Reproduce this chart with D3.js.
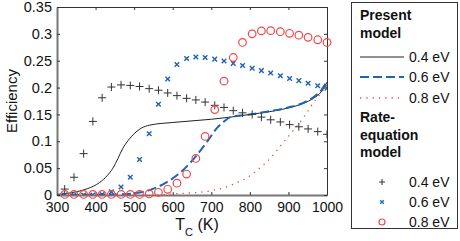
<!DOCTYPE html>
<html>
<head>
<meta charset="utf-8">
<script src="https://cdn.jsdelivr.net/npm/d3@7"></script>
<style>
  body { margin: 0; background: #fff; }
  text { font-family: "Liberation Sans", Arial, sans-serif; }
</style>
</head>
<body>
<svg id="chart" width="460" height="241"></svg>
<script>
// rate-equation model sample temperatures (K)
var temps = [320, 344, 369, 393, 417, 441, 466, 490, 514, 539, 563, 587, 611, 636, 660,
  684, 709, 733, 757, 781, 806, 830, 854, 879, 903, 927, 951, 976, 1000];
var rate04 = [0.011, 0.033, 0.077, 0.137, 0.181, 0.201, 0.205, 0.204, 0.202, 0.198, 0.195,
  0.190, 0.185, 0.180, 0.177, 0.173, 0.167, 0.163, 0.157, 0.153, 0.150, 0.145, 0.140,
  0.136, 0.131, 0.127, 0.123, 0.118, 0.113];
var rate06 = [0.000, 0.000, 0.000, 0.000, 0.001, 0.006, 0.015, 0.033, 0.066, 0.114, 0.169,
  0.216, 0.243, 0.254, 0.257, 0.256, 0.253, 0.2495, 0.245, 0.241, 0.236, 0.2315, 0.227,
  0.222, 0.217, 0.213, 0.208, 0.2035, 0.199];
var rate08 = [0.001, 0.001, 0.001, 0.001, 0.001, 0.001, 0.001, 0.001, 0.001, 0.002, 0.005,
  0.0106, 0.022, 0.039, 0.068, 0.109, 0.159, 0.212, 0.256, 0.284, 0.300, 0.3055, 0.306,
  0.304, 0.301, 0.2975, 0.2935, 0.289, 0.284];

// present model curves [T, efficiency]
var model04 = [[300, 0.001], [350, 0.006], [380, 0.012], [410, 0.023], [430, 0.036],
  [445, 0.050], [458, 0.068], [470, 0.086], [485, 0.102], [500, 0.114], [520, 0.125],
  [540, 0.130], [600, 0.135], [650, 0.138], [700, 0.141], [750, 0.145], [800, 0.150],
  [850, 0.155], [900, 0.162], [940, 0.171], [965, 0.180], [985, 0.192], [1000, 0.210]];
var model06 = [[300, 0.000], [450, 0.001], [500, 0.003], [540, 0.009], [585, 0.024],
  [625, 0.045], [660, 0.072], [690, 0.100], [715, 0.125], [735, 0.138], [750, 0.145],
  [800, 0.150], [850, 0.156], [900, 0.163], [940, 0.172], [965, 0.182], [985, 0.195],
  [1000, 0.212]];
var model08 = [[560, 0.000], [600, 0.002], [650, 0.004], [700, 0.008], [730, 0.013],
  [760, 0.021], [790, 0.031], [820, 0.047], [850, 0.066], [880, 0.092], [910, 0.118],
  [940, 0.145], [965, 0.172], [985, 0.190], [1000, 0.205]];

var xTicks = [300, 400, 500, 600, 700, 800, 900, 1000];
var yTicks = [0, 0.05, 0.1, 0.15, 0.2, 0.25, 0.3, 0.35];
var legendLabels = ["0.4 eV", "0.6 eV", "0.8 eV"];

var margin = {top: 7, left: 57};
var width = 270, height = 188;
var black = "#222", blue = "#1f63b5", red = "#f04848";

var svg = d3.select("#chart");
var g = svg.append("g").attr("transform", "translate(" + margin.left + "," + margin.top + ")");

var x = d3.scaleLinear().domain([300, 1000]).range([0, width]);
var y = d3.scaleLinear().domain([0, 0.35]).range([height, 0]);

// axes (MATLAB style, ticks inside on all four sides)
function styleAxis(sel, color, w, fs) {
  sel.attr("font-family", null).attr("font-size", null);
  sel.select(".domain").attr("stroke", color).attr("stroke-width", w).attr("fill", "none");
  sel.selectAll(".tick line").attr("stroke", "#333");
  sel.selectAll("text").style("font-size", fs).attr("fill", "#111");
}
var fmtY = function(d) { return d === 0 ? "0" : String(+d.toFixed(2)); };

g.append("g").attr("transform", "translate(0," + height + ")")
  .call(d3.axisBottom(x).tickValues(xTicks).tickSizeInner(-3).tickSizeOuter(0).tickPadding(7)
    .tickFormat(d3.format("d")))
  .call(styleAxis, "#777", 2, "14px");
g.append("g")
  .call(d3.axisTop(x).tickValues(xTicks).tickSizeInner(-3).tickSizeOuter(0).tickFormat(""))
  .call(styleAxis, "#333", 1, "14px");
g.append("g")
  .call(d3.axisLeft(y).tickValues(yTicks).tickSizeInner(-3).tickSizeOuter(0).tickPadding(5)
    .tickFormat(fmtY))
  .call(styleAxis, "#777", 2, "14.5px");
g.append("g").attr("transform", "translate(" + width + ",0)")
  .call(d3.axisRight(y).tickValues(yTicks).tickSizeInner(-3).tickSizeOuter(0).tickFormat(""))
  .call(styleAxis, "#333", 1, "14px");

// clip so curves stay in the box
svg.append("clipPath").attr("id", "clip").append("rect")
  .attr("x", 0).attr("y", 0).attr("width", width).attr("height", height);
var plot = g.append("g").attr("clip-path", "url(#clip)");

var line = d3.line().curve(d3.curveMonotoneX)
  .x(function(d) { return x(d[0]); })
  .y(function(d) { return y(d[1]); });

plot.append("path").datum(model08).attr("fill", "none").attr("stroke", red)
  .attr("stroke-width", 1.3).attr("stroke-dasharray", "1.3,5").attr("d", line);
plot.append("path").datum(model04).attr("fill", "none").attr("stroke", black)
  .attr("stroke-width", 1).attr("d", line);
plot.append("path").datum(model06).attr("fill", "none").attr("stroke", blue)
  .attr("stroke-width", 2).attr("stroke-dasharray", "9,4").attr("d", line);

// markers
function plusPath(s) { return "M" + (-s) + ",0H" + s + "M0," + (-s) + "V" + s; }
function crossPath(s) { return "M" + (-s) + "," + (-s) + "L" + s + "," + s + "M" + (-s) + "," + s + "L" + s + "," + (-s); }

plot.selectAll(".plus").data(temps).enter().append("path")
  .attr("class", "plus")
  .attr("transform", function(d, i) { return "translate(" + x(d) + "," + y(rate04[i]) + ")"; })
  .attr("d", plusPath(4)).attr("stroke", "#333").attr("stroke-width", 1).attr("fill", "none");
plot.selectAll(".xmark").data(temps).enter().append("path")
  .attr("class", "xmark")
  .attr("transform", function(d, i) { return "translate(" + x(d) + "," + y(rate06[i]) + ")"; })
  .attr("d", crossPath(2.3)).attr("stroke", blue).attr("stroke-width", 1.4).attr("fill", "none");
g.selectAll(".circ").data(temps).enter().append("circle")
  .attr("class", "circ")
  .attr("cx", function(d) { return x(d); })
  .attr("cy", function(d, i) { return y(rate08[i]); })
  .attr("r", 3.8).attr("stroke", red).attr("stroke-width", 1.2).attr("fill", "none");

// axis titles
svg.append("text")
  .attr("transform", "translate(17," + (margin.top + height / 2) + ") rotate(-90)")
  .attr("text-anchor", "middle").style("font-size", "15px").attr("fill", "#111")
  .text("Efficiency");
var xt = svg.append("text").attr("x", 197).attr("y", 230)
  .attr("text-anchor", "middle").style("font-size", "16px").attr("fill", "#111");
xt.append("tspan").text("T");
xt.append("tspan").attr("dy", 6).style("font-size", "11px").text("C");
xt.append("tspan").attr("dy", -6).text(" (K)");

// legend
var lg = svg.append("g");
lg.append("rect").attr("x", 351.5).attr("y", 2.5).attr("width", 106).attr("height", 226)
  .attr("fill", "#fff").attr("stroke", "#333").attr("stroke-width", 1);

function heading(lines, y0) {
  lines.forEach(function(t, i) {
    lg.append("text").attr("x", 360).attr("y", y0 + i * 17.5)
      .style("font-size", "14px").style("font-weight", "bold").attr("fill", "#111").text(t);
  });
}
heading(["Present", "model"], 20);
heading(["Rate-", "equation", "model"], 122);

var lineStyles = [
  {color: black, w: 1, dash: null},
  {color: blue, w: 2, dash: "9,4"},
  {color: red, w: 1.3, dash: "1.3,5"}
];
var lineY = [57, 77, 98];
lineStyles.forEach(function(s, i) {
  lg.append("line").attr("x1", 360).attr("x2", 404).attr("y1", lineY[i]).attr("y2", lineY[i])
    .attr("stroke", s.color).attr("stroke-width", s.w).attr("stroke-dasharray", s.dash);
  lg.append("text").attr("x", 409).attr("y", lineY[i] + 5).style("font-size", "14px")
    .attr("fill", "#111").text(legendLabels[i]);
});

var markY = [182, 202, 222];
lg.append("path").attr("transform", "translate(382," + markY[0] + ")").attr("d", plusPath(3))
  .attr("stroke", "#333").attr("fill", "none");
lg.append("path").attr("transform", "translate(382," + markY[1] + ")").attr("d", crossPath(1.8))
  .attr("stroke", blue).attr("stroke-width", 1.3).attr("fill", "none");
lg.append("circle").attr("cx", 382).attr("cy", markY[2]).attr("r", 3)
  .attr("stroke", red).attr("stroke-width", 1.2).attr("fill", "none");
markY.forEach(function(my, i) {
  lg.append("text").attr("x", 409).attr("y", my + 5).style("font-size", "14px")
    .attr("fill", "#111").text(legendLabels[i]);
});
</script>
</body>
</html>
